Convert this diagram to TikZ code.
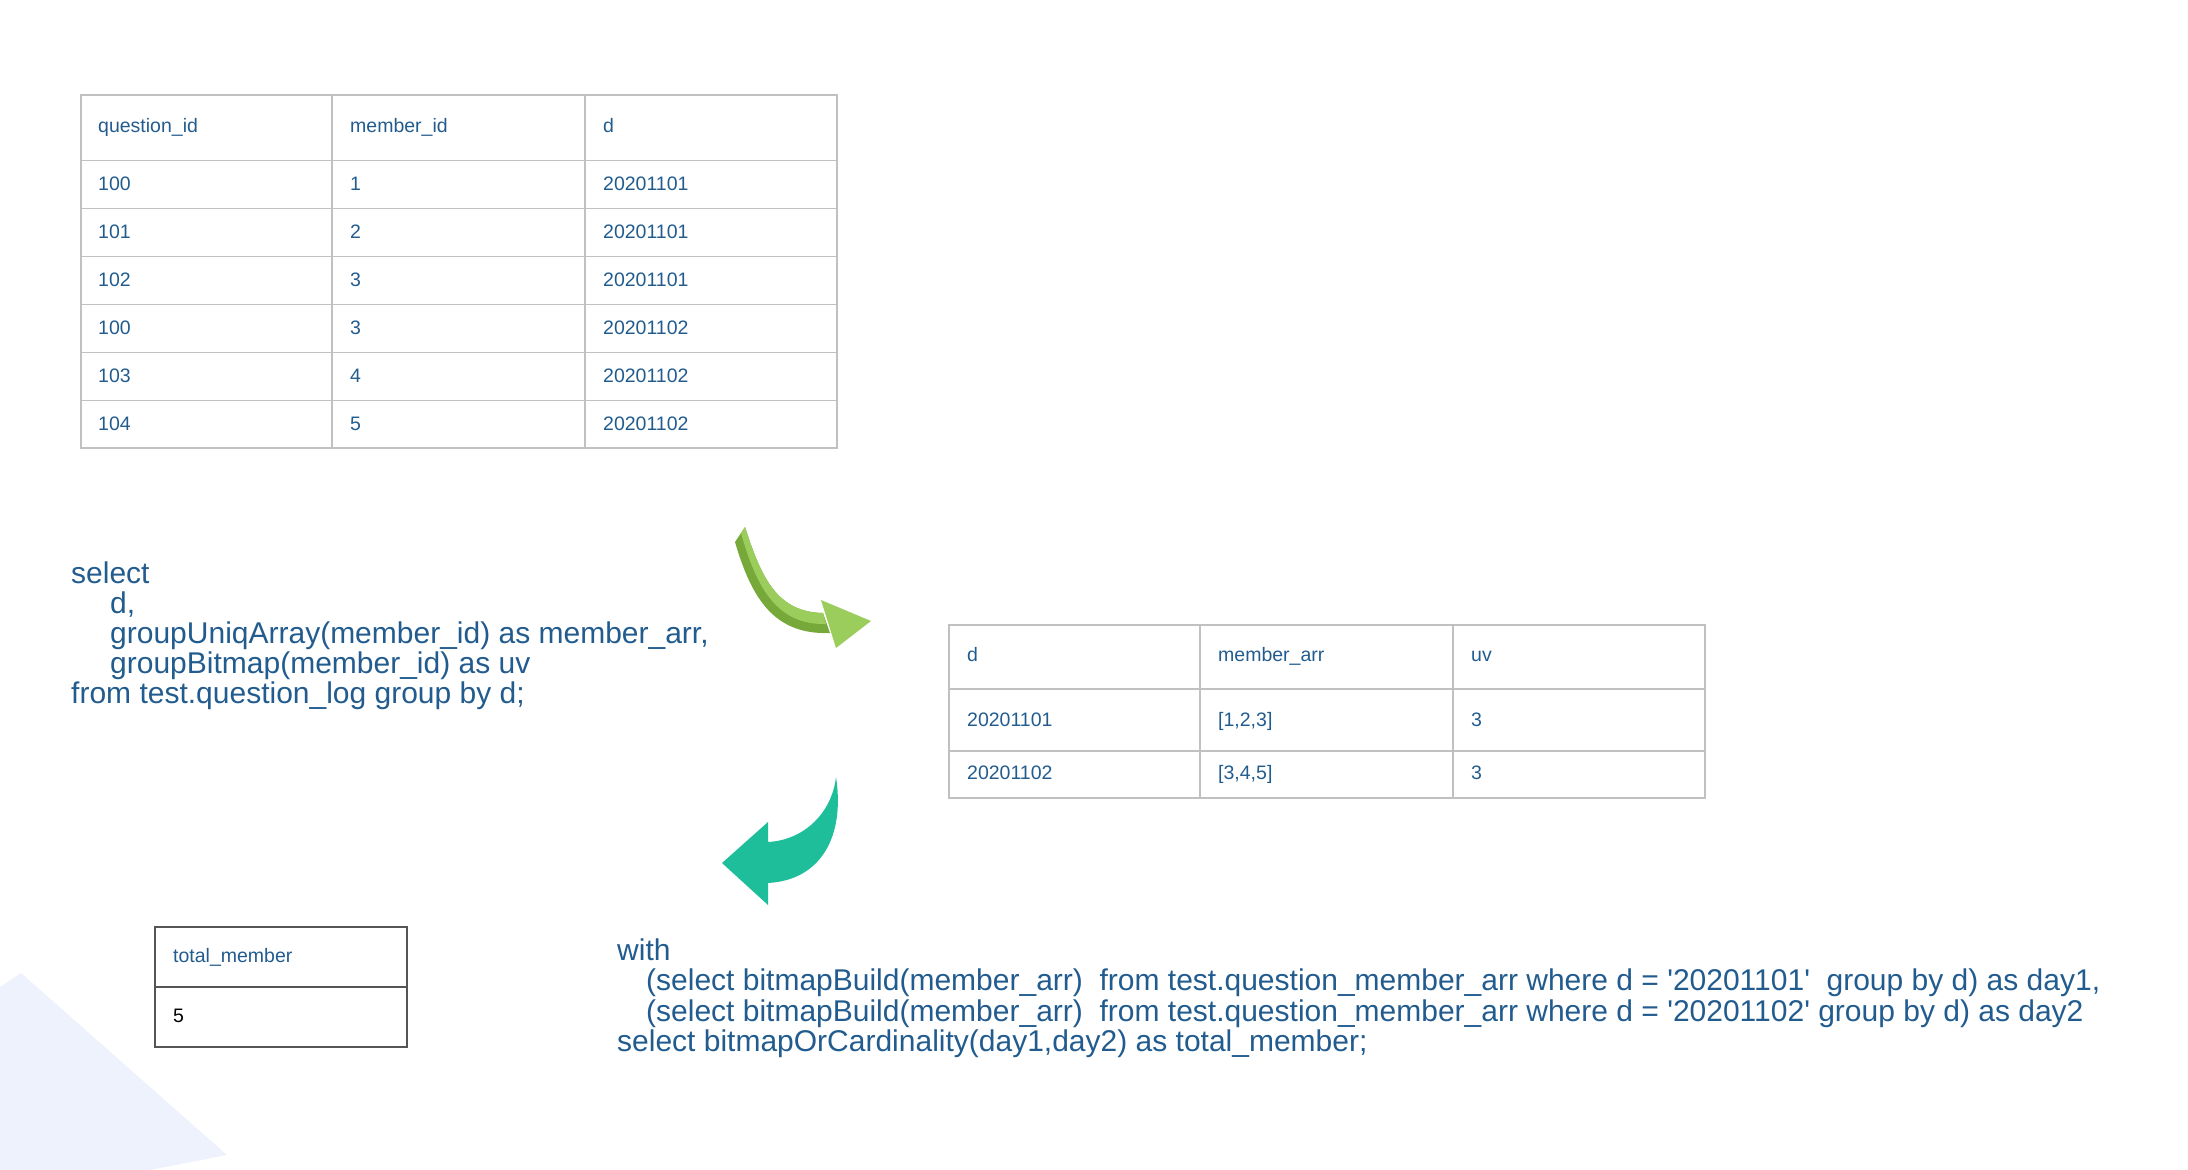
\documentclass[tikz,border=0pt]{standalone}
\usepackage{fontspec}
\setmainfont{Liberation Sans}
\definecolor{txt}{RGB}{34,92,142}
\definecolor{gridc}{RGB}{192,192,192}
\definecolor{boxc}{RGB}{85,85,85}
\definecolor{bgc}{RGB}{237,242,253}
\definecolor{glight}{RGB}{155,205,92}
\definecolor{gdark}{RGB}{118,168,58}
\definecolor{gcap}{RGB}{178,220,120}
\definecolor{tealc}{RGB}{30,190,155}
\newcommand\sqmark{\XeTeXglyph\XeTeXcharglyph"27\relax}
\begin{document}
\begin{tikzpicture}[x=1pt,y=-1pt,
  cell/.style={anchor=base west,inner sep=0pt,font=\fontsize{19.5}{22}\selectfont,text=txt},
  code/.style={anchor=base west,inner sep=0pt,font=\fontsize{30}{30}\selectfont,text=txt},
  grid/.style={draw=gridc,line width=1.6pt},
  boxgrid/.style={draw=boxc,line width=1.6pt}]
\useasboundingbox (0,0) rectangle (2188,1170);
% background shape
\fill[bgc] (0,987) -- (21,973) -- (227,1155) -- (150,1170) -- (0,1170) -- cycle;

% ---- table 1 ----
\draw[grid] (81,95) rectangle (837,448);
\foreach \y in {160.5,208.5,256.5,304.5,352.5,400.5} \draw[grid] (81,\y) -- (837,\y);
\foreach \x in {332,585} \draw[grid] (\x,95) -- (\x,448);
\node[cell] (qh) at (98,132) {question\_id};
\node[cell] (mh) at (350,132) {member\_id};
\node[cell] (dh) at (603,132) {d};
\node[cell] (q1) at (98,190) {100};   \node[cell] (m1) at (350,190) {1}; \node[cell] (d1) at (603,190) {20201101};
\node[cell] (q2) at (98,238) {101};   \node[cell] (m2) at (350,238) {2}; \node[cell] (d2) at (603,238) {20201101};
\node[cell] (q3) at (98,286) {102};   \node[cell] (m3) at (350,286) {3}; \node[cell] (d3) at (603,286) {20201101};
\node[cell] (q4) at (98,334) {100};   \node[cell] (m4) at (350,334) {3}; \node[cell] (d4) at (603,334) {20201102};
\node[cell] (q5) at (98,382) {103};   \node[cell] (m5) at (350,382) {4}; \node[cell] (d5) at (603,382) {20201102};
\node[cell] (q6) at (98,430) {104};   \node[cell] (m6) at (350,430) {5}; \node[cell] (d6) at (603,430) {20201102};

% ---- table 2 ----
\draw[grid] (949,625) rectangle (1705,798);
\foreach \y in {689,751} \draw[grid] (949,\y) -- (1705,\y);
\foreach \x in {1200,1453} \draw[grid] (\x,625) -- (\x,798);
\node[cell] (bdh) at (967,661) {d};
\node[cell] (bah) at (1218,661) {member\_arr};
\node[cell] (buh) at (1471,661) {uv};
\node[cell] (bd1) at (967,726) {20201101}; \node[cell] (ba1) at (1218,726) {[1,2,3]}; \node[cell] (bu1) at (1471,726) {3};
\node[cell] (bd2) at (967,779) {20201102}; \node[cell] (ba2) at (1218,779) {[3,4,5]}; \node[cell] (bu2) at (1471,779) {3};

% ---- table 3 ----
\draw[boxgrid] (155,927) rectangle (407,1047);
\draw[boxgrid] (155,987) -- (407,987);
\node[cell] (th) at (173,962) {total\_member};
\node[cell,text=black] (tv) at (173,1022) {5};

% ---- SQL 1 ----
\node[code] (sa1) at (71,583) {select};
\node[code] (sa2) at (110,613) {d,};
\node[code] (sa3) at (110,643) {groupUniqArray(member\_id) as member\_arr,};
\node[code] (sa4) at (110,673) {groupBitmap(member\_id) as uv};
\node[code] (sa5) at (71,703) {from test.question\_log group by d;};

% ---- SQL 2 ----
\node[code] (sb1) at (617,960) {with};
\node[code] (sb2) at (646,990.5) {(select bitmapBuild(member\_arr)\ \ from test.question\_member\_arr where d = \sqmark20201101\sqmark\ \ group by d) as day1,};
\node[code] (sb3) at (646,1021) {(select bitmapBuild(member\_arr)\ \ from test.question\_member\_arr where d = \sqmark20201102\sqmark\ group by d) as day2};
\node[code] (sb4) at (617,1051.5) {select bitmapOrCardinality(day1,day2) as total\_member;};

% ---- green 3D arrow ----
\fill[gdark] (745,527) .. controls (762,580) and (778,612) .. (823,613) -- (830,633) .. controls (775,635) and (752,600) .. (735,542) -- cycle;
\fill[glight] (745,527) .. controls (762,580) and (778,612) .. (823,613) -- (826,624) .. controls (778,625) and (757,590) .. (741,533) -- cycle;
\fill[gcap] (735,542) -- (741,533) -- (745,527) -- (739,536) -- cycle;
\fill[glight] (821,600) -- (871,621) -- (836,648) -- cycle;

% ---- teal arrow ----
\fill[tealc] (722,863) -- (768,822) -- (768,842) .. controls (805,840) and (832,812) .. (836,777) .. controls (845,835) and (822,880) .. (768,883) -- (768,905) -- cycle;
\end{tikzpicture}
\end{document}
